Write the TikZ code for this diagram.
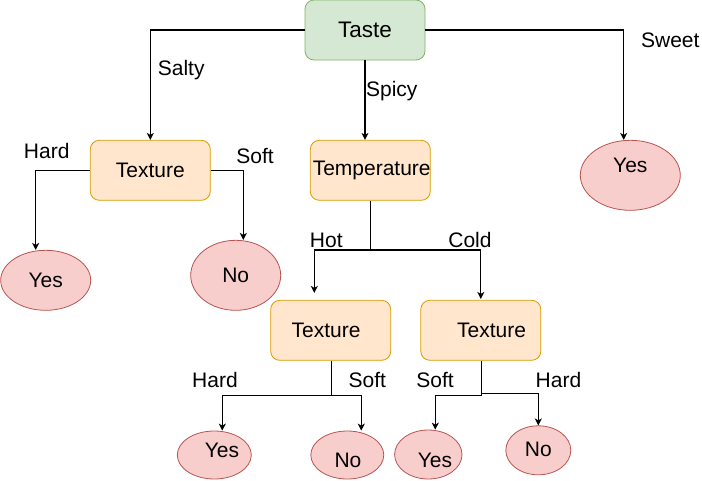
\documentclass[tikz,border=0pt]{standalone}
\usepackage{fontspec}
\setmainfont{Liberation Sans}
\usetikzlibrary{arrows.meta,shapes.geometric}
\definecolor{greenfill}{HTML}{D5E8D4}
\definecolor{greenline}{HTML}{82B366}
\definecolor{orangefill}{HTML}{FFE6CC}
\definecolor{orangeline}{HTML}{D79B00}
\definecolor{redfill}{HTML}{F8CECC}
\definecolor{redline}{HTML}{B85450}
\newcommand\nudge[3]{\raisebox{#2}[\height][\depth]{\hspace*{#1}\hspace*{#1}#3}}
\begin{document}
\begin{tikzpicture}[x=1pt,y=-1pt,
    nodes={inner sep=0pt,font=\fontsize{21}{25}\selectfont},
    attr/.style={draw=orangeline,fill=orangefill,rounded corners=9pt,
      minimum width=120pt,minimum height=60pt,line width=0.8pt},
    root/.style={attr,draw=greenline,fill=greenfill,font=\fontsize{22.5}{27}\selectfont},
    leaf/.style={ellipse,draw=redline,fill=redfill,line width=0.8pt},
    edge/.style={-{Stealth[length=7pt,width=7pt,inset=2pt]},line width=1.1pt}]
  \useasboundingbox (0,0) rectangle (702,480);
  \node[root] (taste) at (365,30) {Taste};
  \node[attr] (texture) at (150.3,170.3) {Texture};
  \node[attr] (temperature) at (370.3,170.3) {\makebox[0pt]{\nudge{1.4pt}{0pt}{Temperature}}};
  \node[leaf,minimum width=100pt,minimum height=70pt] (sweetyes) at (630.3,175.3) {\nudge{0pt}{9.5pt}{Yes}};
  \node[leaf,minimum width=90pt,minimum height=60pt] (hardyes) at (45.7,280.3) {Yes};
  \node[leaf,minimum width=90pt,minimum height=70pt] (softno) at (235.7,275.3) {No};
  \node[attr] (hottexture) at (330.7,330.3) {\nudge{-4.7pt}{0pt}{Texture}};
  \node[attr] (coldtexture) at (480.8,330.3) {\nudge{10.7pt}{0pt}{Texture}};
  \node[leaf,minimum width=74pt,minimum height=48pt] (hhyes) at (214.3,455) {\nudge{7.7pt}{5pt}{Yes}};
  \node[leaf,minimum width=73pt,minimum height=48pt] (hsno) at (347.3,455) {\nudge{0.7pt}{-5pt}{No}};
  \node[leaf,minimum width=65pt,minimum height=49pt] (csyes) at (428.3,454.5) {\nudge{6.7pt}{-5.5pt}{Yes}};
  \node[leaf,minimum width=65pt,minimum height=49pt] (chno) at (538.3,450.3) {\nudge{0pt}{1.3pt}{No}};
  \coordinate (hotcold) at (370.3,250);
  \coordinate (hotsplit) at (330.7,395.7);
  \coordinate (coldsplit) at (480.8,395.7);
  \coordinate (coldhard) at (480.8,393.3);
  \draw[edge] (taste) -| (texture.north);
  \draw[edge] (taste.south) -- (taste.south |- temperature.north);
  \draw[edge] (taste) -| ([xshift=-6.6pt]sweetyes.north);
  \draw[edge] (texture) -| ([xshift=-10pt]hardyes.north);
  \draw[edge] (texture) -| ([xshift=7.6pt]softno.north);
  \draw (temperature.south) -- (hotcold);
  \draw[edge,shorten >=7pt] (hotcold) -| ([xshift=-16.4pt]hottexture.north);
  \draw[edge,shorten >=1pt] (hotcold) -| (coldtexture.north);
  \draw (hottexture.south) -- (hotsplit);
  \draw[edge] (hotsplit) -| ([xshift=8pt]hhyes.north);
  \draw[edge] (hotsplit) -| ([xshift=14pt]hsno.north);
  \draw (coldtexture.south) -- (coldsplit);
  \draw[edge] (coldsplit) -| ([xshift=7pt]csyes.north);
  \draw[edge] (coldhard) -| (chno.north);
  \node (salty) at (181.2,70) {Salty};
  \node (spicy) at (391.8,90.7) {Spicy};
  \node (sweet) at (670.3,40.7) {Sweet};
  \node (hard) at (46.7,150.7) {Hard};
  \node (soft) at (255,156) {Soft};
  \node (hot) at (326.3,240.7) {Hot};
  \node (cold) at (470,240) {Cold};
  \node (hothard) at (215,380) {Hard};
  \node (hotsoft) at (367.3,380) {Soft};
  \node (coldsoft) at (435,380) {Soft};
  \node (coldhardlbl) at (558.5,380) {Hard};
\end{tikzpicture}
\end{document}
